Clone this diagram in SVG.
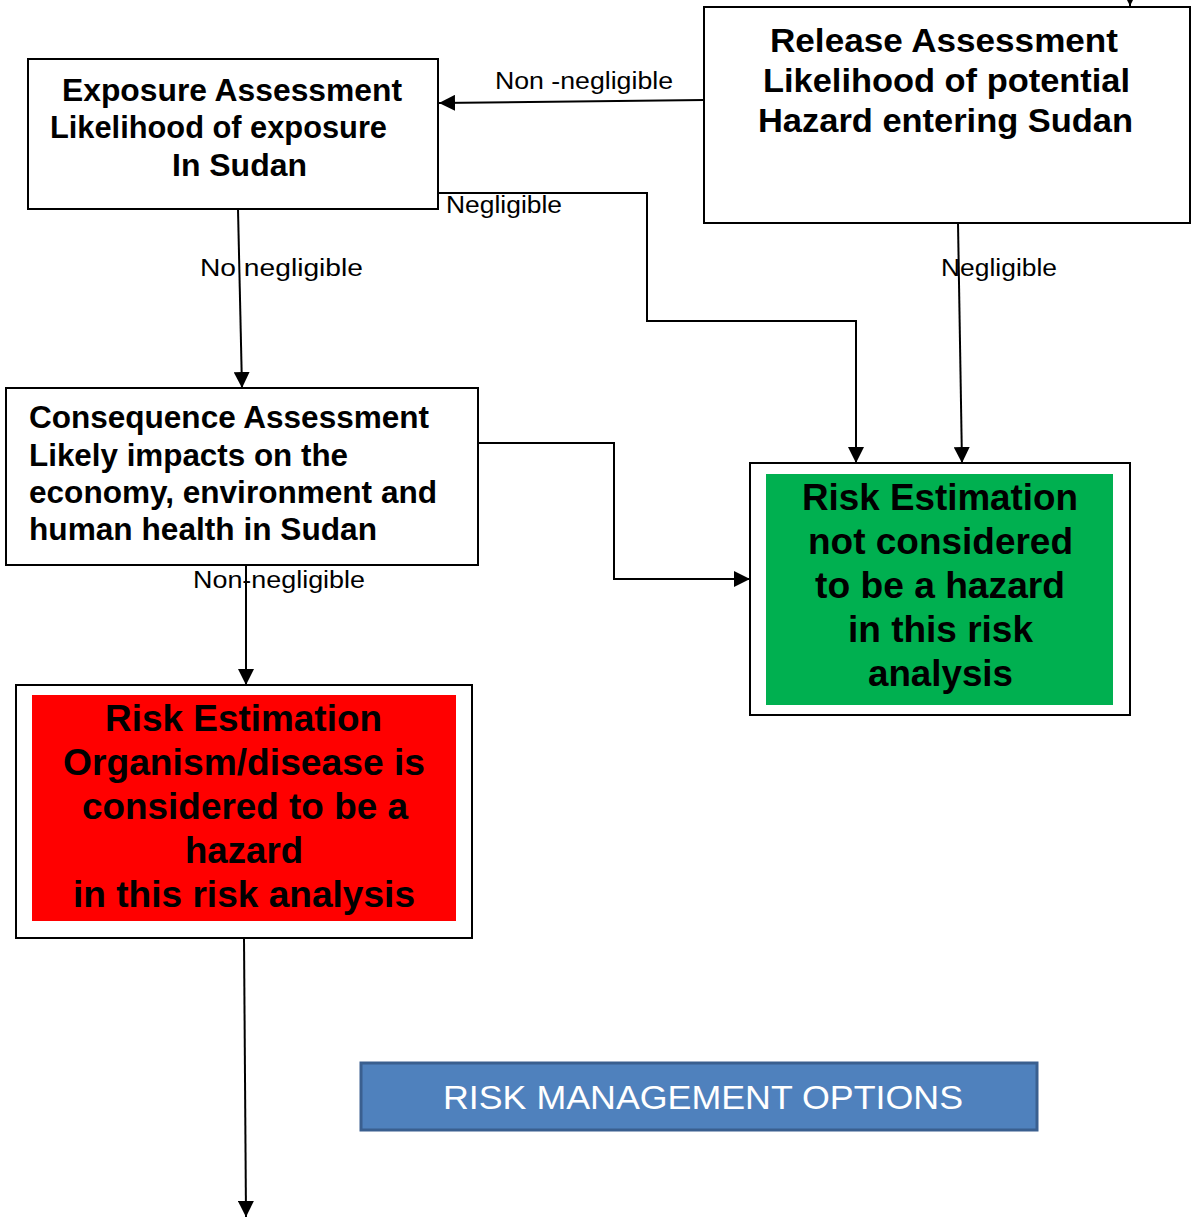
<svg xmlns="http://www.w3.org/2000/svg" width="1191" height="1217" viewBox="0 0 1191 1217">
<defs>
<marker id="ah" viewBox="0 0 10 10" refX="10" refY="5" markerWidth="10" markerHeight="10" markerUnits="userSpaceOnUse" orient="auto"><path d="M0,0 L10,5 L0,10 z" fill="#000"/></marker>
<marker id="ahb" viewBox="0 0 10 10" refX="10" refY="5" markerWidth="16" markerHeight="16" markerUnits="userSpaceOnUse" orient="auto"><path d="M0,0 L10,5 L0,10 z" fill="#000"/></marker>
<style>
.box{fill:#fff;stroke:#000;stroke-width:2}
.t{font-family:"Liberation Sans",Arial,sans-serif;font-weight:bold;font-size:31.5px;fill:#000}
.tr{font-family:"Liberation Sans",Arial,sans-serif;font-weight:bold;font-size:33.5px;fill:#000}
.big{font-family:"Liberation Sans",Arial,sans-serif;font-weight:bold;font-size:37px;fill:#000}
.lbl{font-family:"Liberation Sans",Arial,sans-serif;font-size:23px;fill:#000}
.c{fill:none;stroke:#000;stroke-width:2}
</style>
</defs>
<rect width="1191" height="1217" fill="#fff"/>
<g id="release">
<rect class="box" x="704" y="7" width="486" height="216"/>
<text class="tr" x="770" y="52" textLength="348" lengthAdjust="spacingAndGlyphs">Release Assessment</text>
<text class="tr" x="763" y="92" textLength="367" lengthAdjust="spacingAndGlyphs">Likelihood of potential</text>
<text class="tr" x="758" y="132" textLength="375" lengthAdjust="spacingAndGlyphs">Hazard entering Sudan</text>
</g>
<g id="exposure">
<rect class="box" x="28" y="59" width="410" height="150"/>
<text class="t" x="62" y="101" textLength="340" lengthAdjust="spacingAndGlyphs">Exposure Assessment</text>
<text class="t" x="50" y="138" textLength="337" lengthAdjust="spacingAndGlyphs">Likelihood of exposure</text>
<text class="t" x="172" y="176" textLength="135" lengthAdjust="spacingAndGlyphs">In Sudan</text>
</g>
<g id="consequence">
<rect class="box" x="6" y="388" width="472" height="177"/>
<text class="t" x="29" y="428" textLength="400" lengthAdjust="spacingAndGlyphs">Consequence Assessment</text>
<text class="t" x="29" y="466" textLength="319" lengthAdjust="spacingAndGlyphs">Likely impacts on the</text>
<text class="t" x="29" y="503" textLength="408" lengthAdjust="spacingAndGlyphs">economy, environment and</text>
<text class="t" x="29" y="540" textLength="348" lengthAdjust="spacingAndGlyphs">human health in Sudan</text>
</g>
<g id="not-hazard">
<rect class="box" x="750" y="463" width="380" height="252"/>
<rect x="766" y="474" width="347" height="231" fill="#00B050"/>
<text class="big" x="802" y="510" textLength="276" lengthAdjust="spacingAndGlyphs">Risk Estimation</text>
<text class="big" x="808" y="554" textLength="265" lengthAdjust="spacingAndGlyphs">not considered</text>
<text class="big" x="815" y="598" textLength="250" lengthAdjust="spacingAndGlyphs">to be a hazard</text>
<text class="big" x="848" y="642" textLength="185" lengthAdjust="spacingAndGlyphs">in this risk</text>
<text class="big" x="868" y="686" textLength="145" lengthAdjust="spacingAndGlyphs">analysis</text>
</g>
<g id="hazard">
<rect class="box" x="16" y="685" width="456" height="253"/>
<rect x="32" y="695" width="424" height="226" fill="#FF0000"/>
<text class="big" x="105" y="731" textLength="277" lengthAdjust="spacingAndGlyphs">Risk Estimation</text>
<text class="big" x="63" y="775" textLength="362" lengthAdjust="spacingAndGlyphs">Organism/disease is</text>
<text class="big" x="82" y="819" textLength="326" lengthAdjust="spacingAndGlyphs">considered to be a</text>
<text class="big" x="185" y="863" textLength="118" lengthAdjust="spacingAndGlyphs">hazard</text>
<text class="big" x="73" y="907" textLength="342" lengthAdjust="spacingAndGlyphs">in this risk analysis</text>
</g>
<g id="risk-management">
<rect x="361" y="1063" width="676" height="67" fill="#4F81BD" stroke="#3A5F8F" stroke-width="3"/>
<text x="443" y="1109" font-family="Liberation Sans,Arial,sans-serif" font-size="33" fill="#fff" textLength="520" lengthAdjust="spacingAndGlyphs">RISK MANAGEMENT OPTIONS</text>
</g>
<g id="connectors">
<path class="c" d="M1130,-10 L1130,6" marker-end="url(#ah)"/>
<path class="c" d="M704,100 L439,103" marker-end="url(#ahb)"/>
<path class="c" d="M438,193 L647,193 L647,321 L856,321 L856,463" marker-end="url(#ahb)"/>
<path class="c" d="M958,223 L962,463" marker-end="url(#ahb)"/>
<path class="c" d="M238,209 L242,388" marker-end="url(#ahb)"/>
<path class="c" d="M478,443 L614,443 L614,579 L750,579" marker-end="url(#ahb)"/>
<path class="c" d="M246,565 L246,685" marker-end="url(#ahb)"/>
<path class="c" d="M244,938 L246,1217" marker-end="url(#ahb)"/>
<text class="lbl" x="495" y="89" textLength="178" lengthAdjust="spacingAndGlyphs">Non -negligible</text>
<text class="lbl" x="446" y="213" textLength="116" lengthAdjust="spacingAndGlyphs">Negligible</text>
<text class="lbl" x="200" y="276" textLength="163" lengthAdjust="spacingAndGlyphs">No  negligible</text>
<text class="lbl" x="941" y="276" textLength="116" lengthAdjust="spacingAndGlyphs">Negligible</text>
<text class="lbl" x="193" y="588" textLength="172" lengthAdjust="spacingAndGlyphs">Non-negligible</text>
</g>
</svg>
